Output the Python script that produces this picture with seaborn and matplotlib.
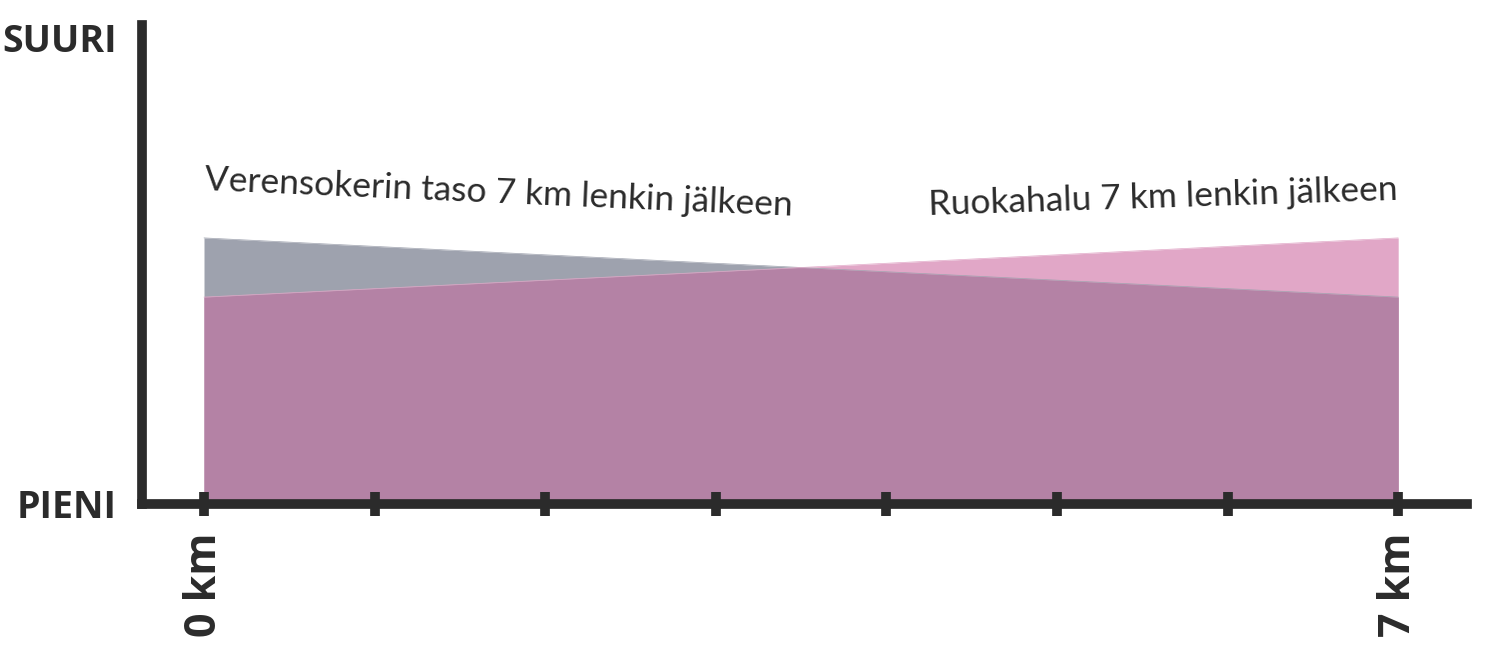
import numpy as np
import pandas as pd
import matplotlib.pyplot as plt
import seaborn as sns

# datos (escala relativa 0 = PIENI, 1 = SUURI)
km = [0, 7]
verensokeri = [0.571, 0.444]
ruokahalu = [0.444, 0.571]
xtick_pos = [0, 1, 2, 3, 4, 5, 6, 7]
xtick_labels = ["0 km", "", "", "", "", "", "", "7 km"]
ytick_labels = ["PIENI", "SUURI"]

grey = "#9ea2ae"
pink = "#e1a7c7"
mix = "#b482a5"
dark = "#2b2b2b"

sns.set_theme(style="white")
plt.rcParams['font.family'] = ['Open Sans', 'DejaVu Sans']

df = pd.DataFrame({"km": km, "sokeri": verensokeri, "halu": ruokahalu})

fig = plt.figure(figsize=(14.87, 6.51), dpi=100)
ax = fig.add_axes([142/1487, (651-504)/651, (1467-142)/1487, (504-25)/651])

x = np.array(df.km)
s = np.array(df.sokeri)
h = np.array(df.halu)
xx = np.linspace(x[0], x[-1], 200)
si = np.interp(xx, x, s)
hi = np.interp(xx, x, h)

# areas: gris, rosa y la zona comun
ax.fill_between(xx, 0, si, color=grey, lw=0, zorder=1)
ax.fill_between(xx, 0, hi, color=pink, lw=0, zorder=1)
ax.fill_between(xx, 0, np.minimum(si, hi), color=mix, lw=0, zorder=2)
sns.lineplot(data=df, x="km", y="sokeri", ax=ax, color=grey, lw=0.5, zorder=2)
sns.lineplot(data=df, x="km", y="halu", ax=ax, color=pink, lw=0.5, zorder=2)

ax.set_xlim((142-204)/170.6, (1467-204)/170.6)
ax.set_ylim(0, 1 + 13/466)
ax.set_xlabel("")
ax.set_ylabel("")
ax.set_axisbelow(False)

for side in ["top", "right"]:
    ax.spines[side].set_visible(False)
for side in ["left", "bottom"]:
    ax.spines[side].set_color(dark)
    ax.spines[side].set_linewidth(7)
    ax.spines[side].set_capstyle("projecting")
    ax.spines[side].set_zorder(5)

ax.set_xticks(xtick_pos)
ax.set_xticklabels(xtick_labels, rotation=90, fontsize=31, fontweight="bold", color=dark)
ax.tick_params(axis="x", direction="inout", length=17, width=7, color=dark, pad=12, bottom=True)
ax.set_yticks([0, 1])
ax.set_yticklabels(ytick_labels, fontsize=27, fontweight="bold", color=dark)
ax.tick_params(axis="y", length=0, pad=18)

ax.text(0.0, 0.674, "Verensokerin taso 7 km lenkin jälkeen", fontsize=25.5,
        family=['Lato', 'DejaVu Sans'], color=dark,
        rotation=-2.5, rotation_mode="anchor", ha="left", va="baseline")
ax.text(7.0, 0.652, "Ruokahalu 7 km lenkin jälkeen", fontsize=25.5,
        family=['Lato', 'DejaVu Sans'], color=dark,
        rotation=1.85, rotation_mode="anchor", ha="right", va="baseline")

plt.savefig("out.png", dpi=100)
